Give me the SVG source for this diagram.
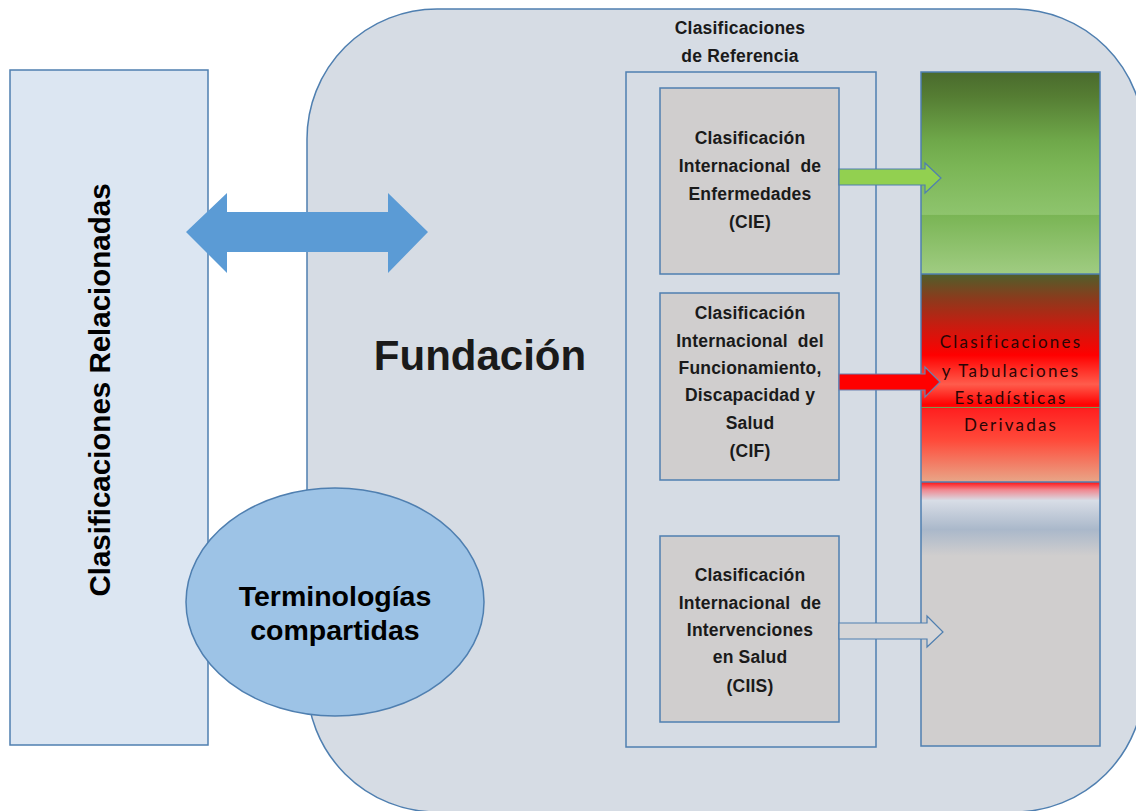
<svg xmlns="http://www.w3.org/2000/svg" width="1136" height="811" viewBox="0 0 1136 811">
<defs>
<style>
.stk{stroke:#4f7fb0;stroke-width:1.5}
.box{fill:#d0cece;stroke:#4f7fb0;stroke-width:1.5}
.cal{font-family:"Liberation Sans",Arial,sans-serif;font-weight:bold;fill:#1a1a1a;text-anchor:middle}
.bx{font-size:17.5px;letter-spacing:0.2px}
.ari{font-family:"Liberation Sans",Arial,sans-serif;font-weight:bold;fill:#000;text-anchor:middle}
.der{font-family:Lato,"Liberation Sans",sans-serif;font-size:17px;letter-spacing:2.2px;fill:#2a0505;text-anchor:middle}
</style>
<linearGradient id="gGreen" gradientUnits="userSpaceOnUse" x1="0" y1="72" x2="0" y2="274">
<stop offset="0" stop-color="#4a6a2d"/>
<stop offset="0.12" stop-color="#557d33"/>
<stop offset="0.34" stop-color="#6fa84a"/>
<stop offset="0.46" stop-color="#7ab555"/>
<stop offset="0.705" stop-color="#8ec46d"/>
<stop offset="0.71" stop-color="#7ab555"/>
<stop offset="1" stop-color="#a0cc82"/>
</linearGradient>
<linearGradient id="gRed" gradientUnits="userSpaceOnUse" x1="0" y1="274" x2="0" y2="482">
<stop offset="0" stop-color="#4f5f2b"/>
<stop offset="0.12" stop-color="#8c3a1c"/>
<stop offset="0.25" stop-color="#c81c10"/>
<stop offset="0.39" stop-color="#ff0000"/>
<stop offset="0.53" stop-color="#ff5c4c"/>
<stop offset="0.63" stop-color="#ff0000"/>
<stop offset="0.65" stop-color="#ff2020"/>
<stop offset="0.8" stop-color="#ff4a3a"/>
<stop offset="1" stop-color="#e8a688"/>
</linearGradient>
<linearGradient id="gGray" gradientUnits="userSpaceOnUse" x1="0" y1="482" x2="0" y2="746">
<stop offset="0" stop-color="#ff1010"/>
<stop offset="0.03" stop-color="#f08890"/>
<stop offset="0.07" stop-color="#d8dde6"/>
<stop offset="0.18" stop-color="#aab8ca"/>
<stop offset="0.28" stop-color="#d0cece"/>
<stop offset="1" stop-color="#d0cece"/>
</linearGradient>
</defs>
<rect width="1136" height="811" fill="#ffffff"/>

<g id="relacionadas">
<rect x="10" y="70" width="198" height="675" fill="#dce6f2" class="stk"/>
<text class="ari" font-size="29.5" transform="translate(110,390) rotate(-90)">Clasificaciones Relacionadas</text>
</g>

<g id="fundacion">
<rect x="307" y="9" width="837" height="803" rx="130" ry="130" fill="#d6dce4" class="stk"/>
<text class="cal" font-size="42" x="480" y="370">Fundación</text>
</g>

<g id="terminologias">
<ellipse cx="335" cy="602" rx="149" ry="114" fill="#9dc3e6" class="stk"/>
<text class="ari" font-size="28.5" x="335" y="606">Terminologías</text>
<text class="ari" font-size="28.5" x="335" y="640">compartidas</text>
</g>

<g id="referencia">
<rect x="626" y="72" width="250" height="675" fill="#d6dce4" class="stk"/>
<text class="cal bx" x="740" y="34">Clasificaciones</text>
<text class="cal bx" x="740" y="62">de Referencia</text>
</g>

<g id="cie">
<rect x="660" y="88" width="179" height="186" class="box"/>
<text class="cal bx" x="750" y="144">Clasificación</text>
<text class="cal bx" x="750" y="172" xml:space="preserve">Internacional  de</text>
<text class="cal bx" x="750" y="200">Enfermedades</text>
<text class="cal bx" x="750" y="228">(CIE)</text>
</g>

<g id="cif">
<rect x="660" y="293" width="179" height="187" class="box"/>
<text class="cal bx" x="750" y="319">Clasificación</text>
<text class="cal bx" x="750" y="347" xml:space="preserve">Internacional  del</text>
<text class="cal bx" x="750" y="374">Funcionamiento,</text>
<text class="cal bx" x="750" y="401">Discapacidad y</text>
<text class="cal bx" x="750" y="429">Salud</text>
<text class="cal bx" x="750" y="457">(CIF)</text>
</g>

<g id="ciis">
<rect x="660" y="536" width="179" height="186" class="box"/>
<text class="cal bx" x="750" y="581">Clasificación</text>
<text class="cal bx" x="750" y="609" xml:space="preserve">Internacional  de</text>
<text class="cal bx" x="750" y="636">Intervenciones</text>
<text class="cal bx" x="750" y="663">en Salud</text>
<text class="cal bx" x="750" y="692">(CIIS)</text>
</g>

<g id="derivadas">
<rect x="921" y="72" width="179" height="202" fill="url(#gGreen)"/>
<rect x="921" y="274" width="179" height="208" fill="url(#gRed)"/>
<rect x="921" y="482" width="179" height="264" fill="url(#gGray)"/>
<line x1="921" y1="407.5" x2="1100" y2="407.5" stroke="#7a9a50" stroke-width="1.2"/>
<line x1="921" y1="274" x2="1100" y2="274" class="stk"/>
<line x1="921" y1="482" x2="1100" y2="482" class="stk"/>
<rect x="921" y="72" width="179" height="674" fill="none" class="stk"/>
<text class="der" x="1011" y="348">Clasificaciones</text>
<text class="der" x="1011" y="377">y Tabulaciones</text>
<text class="der" x="1011" y="404">Estadísticas</text>
<text class="der" x="1011" y="431">Derivadas</text>
</g>

<g id="connectors">
<polygon points="186,232 227,193 227,212 388,212 388,193 428,232 388,273 388,252 227,252 227,273" fill="#5b9bd5"/>
<polygon points="839,169 925,169 925,163 941,178 925,193 925,185 839,185" fill="#92d050" stroke="#4f7fb0" stroke-width="1.2"/>
<polygon points="839,374 925,374 925,367 940,382 925,397 925,390 839,390" fill="#ff0000" stroke="#6a80b0" stroke-width="1.2"/>
<polygon points="839,623 927,623 927,616 943,632 927,647 927,639 839,639" fill="#d6d6d8" stroke="#4f7fb0" stroke-width="1.2"/>
</g>
</svg>
